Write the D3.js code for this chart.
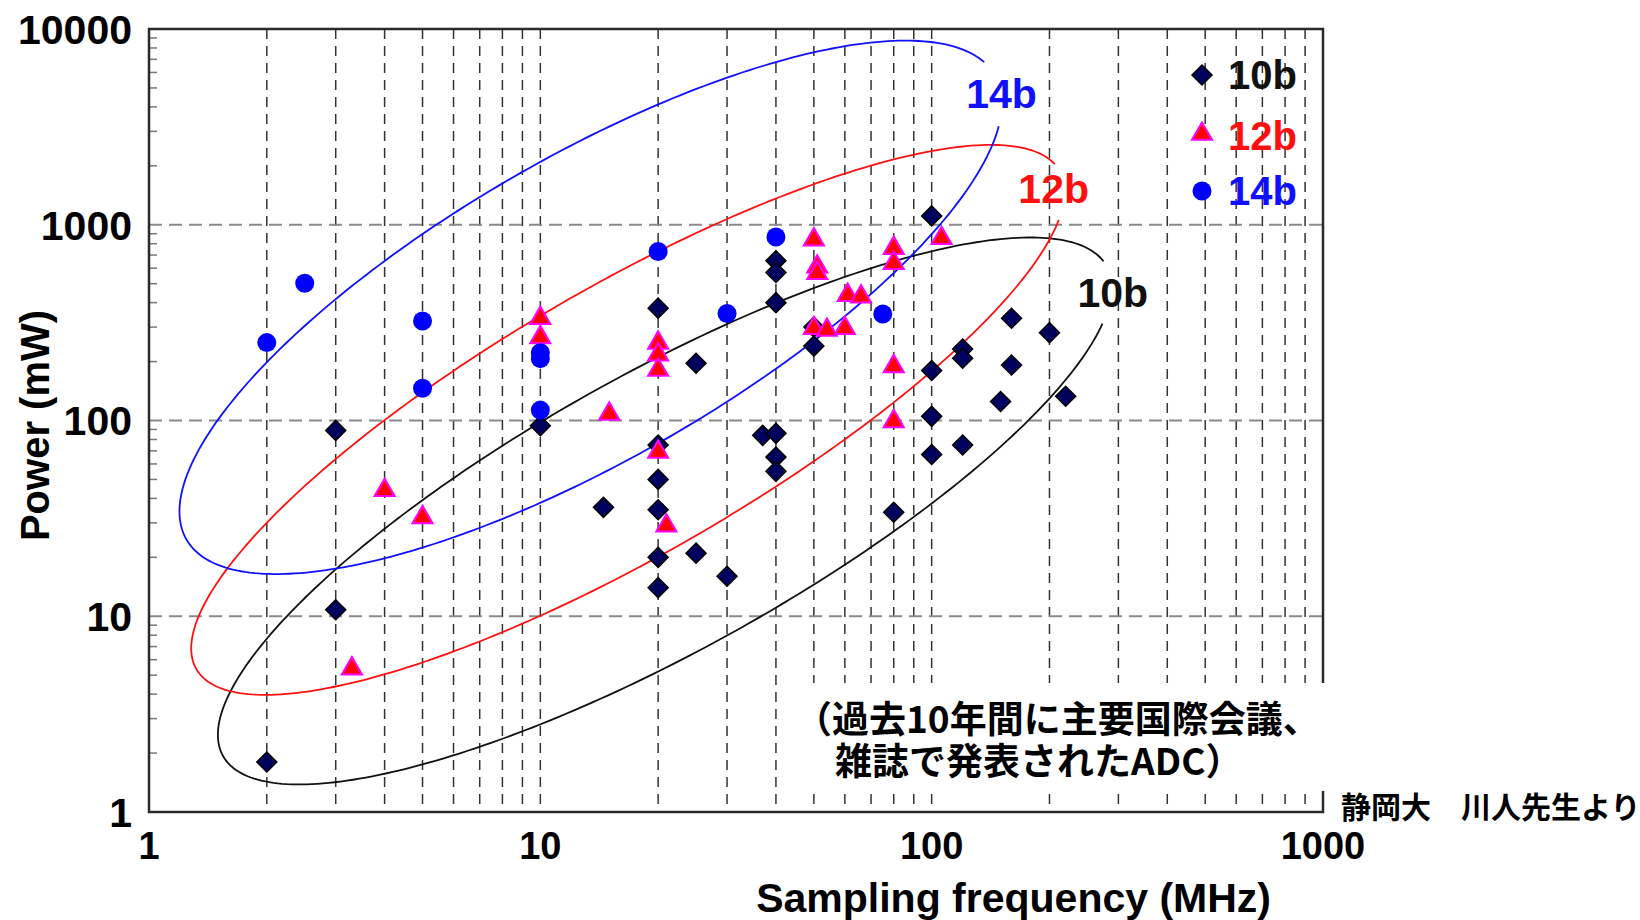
<!DOCTYPE html>
<html>
<head>
<meta charset="utf-8">
<script src="https://cdn.jsdelivr.net/npm/d3@7"></script>
<style>
    body { margin: 0; background: #fff; }
    text { font-family: "Liberation Sans", Arial, sans-serif; font-weight: bold; }
    .jp { font-family: "Noto Sans CJK JP", sans-serif; font-weight: bold; }
</style>
</head>
<body>
<div class="chart"></div>
<script>
// tick labels
const xTicks = [1, 10, 100, 1000];
const yTicks = [1, 10, 100, 1000, 10000];

// 10b ADCs (diamonds)
const freq10 = [2, 3, 3, 10, 14.5, 20, 20, 20, 20, 20, 20, 25, 25, 30, 37, 40, 40, 40, 40, 40, 40, 50, 50, 80, 100, 100, 100, 100, 120, 120, 120, 150, 160, 160, 200, 220];
const power10 = [1.8, 89, 10.8, 94, 36, 375, 75, 50, 35, 20, 14, 196, 21, 16, 84, 86, 65, 55, 655, 570, 400, 300, 240, 34, 1110, 180, 105, 67, 232, 208, 75, 125, 333, 192, 281, 133];

// 12b ADCs (triangles)
const freq12 = [3.3, 4, 5, 10, 10, 15, 20, 20, 20, 20, 21, 50, 51, 51, 50, 54, 60, 61, 66, 80, 80, 80, 80, 106];
const power12 = [5.4, 44, 32, 333, 266, 108, 249, 217, 181, 69, 29, 840, 610, 565, 296, 290, 296, 437, 429, 759, 636, 189, 99, 853];

// 14b ADCs (circles)
const freq14 = [2, 2.5, 5, 5, 10, 10, 10, 20, 30, 40, 75];
const power14 = [250, 502, 322, 146, 222, 207, 113, 730, 352, 866, 350];

// series names, legend and ellipse labels
const seriesNames = ["10b", "12b", "14b"];

// envelope ellipses in log-log space (centre in MHz / mW, axes in decades)
const ellipseCenterFreq = [20.8, 16.75, 13.45];
const ellipseCenterPower = [34.5, 100.7, 378.5];
const ellipseMajor = [[1.129, 1.251], [1.103, 1.273], [1.033, 1.186]];
const ellipseMinor = [[0.172, -0.622], [0.171, -0.594], [0.193, -0.671]];
const ellipseGap = [[-0.04, 0.355], [-0.06, 0.32], [-0.11, 0.31]];

// notes
const noteLines = ["（過去10年間に主要国際会議、", "雑誌で発表されたADC）"];
const creditText = "静岡大　川人先生より";
const xTitle = "Sampling frequency (MHz)";
const yTitle = "Power (mW)";

function drawChart() {
    var W = 1640, H = 920;
    var margin = {top: 29, right: 317, bottom: 108, left: 149};

    var x = d3.scaleLog().domain([1, 1000]).range([margin.left, W - margin.right]);
    var y = d3.scaleLog().domain([1, 10000]).range([H - margin.bottom, margin.top]);

    var svg = d3.select(".chart").append("svg")
        .attr("width", W)
        .attr("height", H);

    var colors = ["#111111", "#ff1010", "#1010ff"];

    // vertical grid, every 1..9 of each decade
    svg.append("g")
        .selectAll("line")
        .data(x.ticks().filter(d => d > 1 && d < 1000))
        .enter().append("line")
        .attr("x1", d => x(d)).attr("x2", d => x(d))
        .attr("y1", y(10000)).attr("y2", y(1))
        .attr("stroke", "#333")
        .attr("stroke-width", 1.5)
        .attr("stroke-dasharray", "10,7");

    // horizontal grid, decades only
    svg.append("g")
        .selectAll("line")
        .data(yTicks.filter(d => d > 1 && d < 10000))
        .enter().append("line")
        .attr("x1", x(1)).attr("x2", x(1000))
        .attr("y1", d => y(d)).attr("y2", d => y(d))
        .attr("stroke", "#8a8a8a")
        .attr("stroke-width", 2)
        .attr("stroke-dasharray", "13,7");

    // small inner ticks on the power axis
    svg.append("g")
        .selectAll("line")
        .data(y.ticks().filter(d => yTicks.indexOf(d) < 0))
        .enter().append("line")
        .attr("x1", x(1)).attr("x2", x(1) + 8)
        .attr("y1", d => y(d)).attr("y2", d => y(d))
        .attr("stroke", "#777")
        .attr("stroke-width", 1.5);

    // frame
    svg.append("rect")
        .attr("x", x(1)).attr("y", y(10000))
        .attr("width", x(1000) - x(1))
        .attr("height", y(1) - y(10000))
        .attr("fill", "none")
        .attr("stroke", "#2a2a2a")
        .attr("stroke-width", 2.5);

    // tick labels
    svg.append("g")
        .selectAll("text")
        .data(yTicks)
        .enter().append("text")
        .attr("x", 132)
        .attr("y", d => y(d))
        .attr("dy", "0.36em")
        .attr("text-anchor", "end")
        .style("font-size", "41px")
        .text(d => d);

    svg.append("g")
        .selectAll("text")
        .data(xTicks)
        .enter().append("text")
        .attr("x", d => x(d))
        .attr("y", 859)
        .attr("text-anchor", "middle")
        .style("font-size", "38px")
        .text(d => d);

    // axis titles
    svg.append("text")
        .attr("x", 1271)
        .attr("y", 912)
        .attr("text-anchor", "end")
        .style("font-size", "41px")
        .text(xTitle);

    svg.append("text")
        .attr("transform", "translate(49," + ((y(1) + y(10000)) / 2 + 5) + ") rotate(-90)")
        .attr("text-anchor", "middle")
        .style("font-size", "40px")
        .text(yTitle);

    // envelopes
    var line = d3.line().x(d => x(d[0])).y(d => y(d[1]));

    function ellipseAt(i, t) {
        var cx = Math.log10(ellipseCenterFreq[i]), cy = Math.log10(ellipseCenterPower[i]);
        var A = ellipseMajor[i], B = ellipseMinor[i];
        return [Math.pow(10, cx + A[0] * Math.cos(t) + B[0] * Math.sin(t)),
                Math.pow(10, cy + A[1] * Math.cos(t) + B[1] * Math.sin(t))];
    }

    seriesNames.forEach(function(name, i) {
        var t0 = ellipseGap[i][1], t1 = ellipseGap[i][0] + 2 * Math.PI;
        var pts = d3.range(0, 301).map(k => ellipseAt(i, t0 + (t1 - t0) * k / 300));
        svg.append("path")
            .attr("d", line(pts))
            .attr("fill", "none")
            .attr("stroke", colors[i])
            .attr("stroke-width", 1.8);

        var mid = ellipseAt(i, (ellipseGap[i][0] + ellipseGap[i][1]) / 2);
        svg.append("text")
            .attr("x", x(mid[0]) + (i == 1 ? -11 : 1))
            .attr("y", y(mid[1]) + (i == 1 ? 0 : 3))
            .attr("dy", "0.38em")
            .attr("text-anchor", "middle")
            .attr("fill", colors[i])
            .style("font-size", "41px")
            .text(name);
    });

    // markers
    var diamond = d3.symbol(d3.symbolSquare, 200);
    var triangle = d3.symbol(d3.symbolTriangle, 175);

    function drawDiamond(g, px, py) {
        g.append("path")
            .attr("d", diamond())
            .attr("transform", "translate(" + px + "," + py + ") rotate(45)")
            .attr("fill", "#00005e")
            .attr("stroke", "#000")
            .attr("stroke-width", 1.5);
    }
    function drawTriangle(g, px, py) {
        g.append("path")
            .attr("d", triangle())
            .attr("transform", "translate(" + px + "," + py + ")")
            .attr("fill", "#ff0000")
            .attr("stroke", "#ff00ff")
            .attr("stroke-width", 2);
    }
    function drawCircle(g, px, py) {
        g.append("circle")
            .attr("cx", px).attr("cy", py)
            .attr("r", 9.5)
            .attr("fill", "#0000ff");
    }

    var marks = svg.append("g");
    freq10.forEach((f, i) => drawDiamond(marks, x(f), y(power10[i])));
    freq12.forEach((f, i) => drawTriangle(marks, x(f), y(power12[i])));
    freq14.forEach((f, i) => drawCircle(marks, x(f), y(power14[i])));

    // legend
    var legend = svg.append("g");
    var drawers = [drawDiamond, drawTriangle, drawCircle];
    seriesNames.forEach(function(name, i) {
        var ly = 75 + i * 58;
        drawers[i](legend, 1202, ly + (i == 1 ? 1 : 0));
        legend.append("text")
            .attr("x", 1228)
            .attr("y", ly + (i == 1 ? 3 : 0))
            .attr("dy", "0.36em")
            .attr("fill", colors[i])
            .style("font-size", "40px")
            .text(name);
    });

    // note box, both lines in one text block
    svg.append("rect")
        .attr("x", 797).attr("y", 683)
        .attr("width", 533).attr("height", 108)
        .attr("fill", "#fff");

    var note = svg.append("text")
        .attr("class", "jp")
        .style("font-size", "37px");
    note.selectAll("tspan")
        .data(noteLines)
        .enter().append("tspan")
        .attr("x", (d, i) => i == 0 ? 795 : 835)
        .attr("y", (d, i) => 733 + i * 42)
        .text(d => d);

    svg.append("text")
        .attr("class", "jp")
        .attr("x", 1341)
        .attr("y", 818)
        .style("font-size", "30px")
        .text(creditText);
}

drawChart();
</script>
</body>
</html>
